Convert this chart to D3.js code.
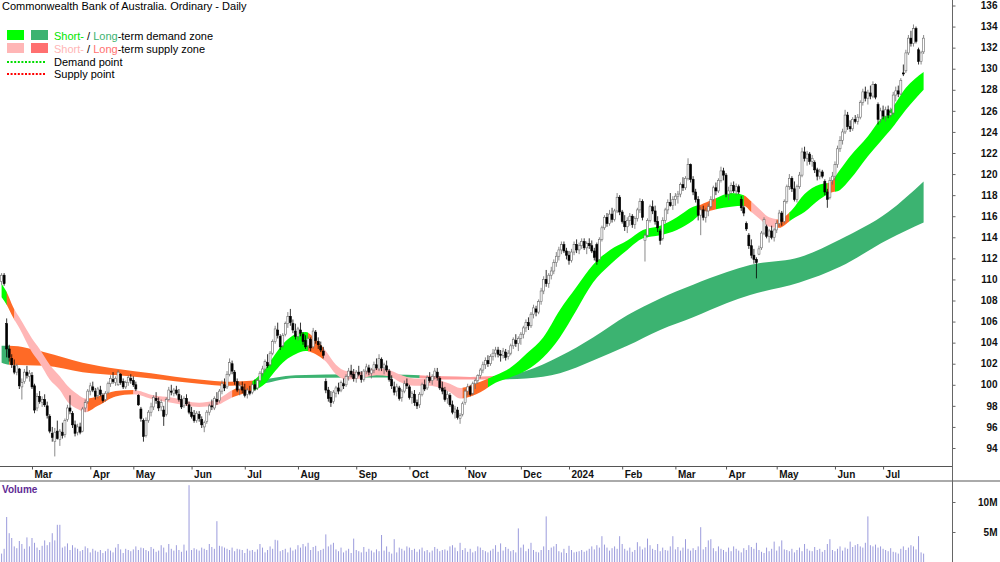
<!DOCTYPE html>
<html>
<head>
<meta charset="utf-8">
<script src="https://cdn.jsdelivr.net/npm/d3@7"></script>
<style>
  body { margin: 0; background: #fff; }
  svg { display: block; font-family: "Liberation Sans", Arial, sans-serif; }
</style>
</head>
<body>
<svg id="chart" width="1000" height="562"></svg>
<script>
// month labels and the index of the first trading day of each month
const monthLabels = ["Mar", "Apr", "May", "Jun", "Jul", "Aug", "Sep", "Oct", "Nov", "Dec", "2024", "Feb", "Mar", "Apr", "May", "Jun", "Jul"];
const monthStart = [12, 35, 52, 75, 96, 117, 140, 161, 183, 205, 224, 245, 266, 286, 306, 329, 348];
const priceTicks = d3.range(94, 137, 2);
const volumeTicks = [5, 10];

// daily candles [open, high, low, close], mid Feb 2023 .. Jul 2024
const candles = [
  // Feb 2023
  [109.8,110.6,109.5,110.4],[110.4,110.6,109.4,109.6],[105.8,106.3,102.6,103.4],[103.4,103.8,102.2,102.6],[102.5,102.9,101.6,101.9],[101.8,102.4,101.0,101.2],
  [101.2,102.0,100.9,101.8],[101.5,101.6,99.6,99.9],[99.8,100.6,98.6,100.2],[100.3,101.5,100.1,101.2],[101.2,101.8,100.6,100.9],[100.8,101.4,100.3,101.1],
  // Mar
  [100.9,101.2,99.6,99.8],[99.9,100.1,97.3,97.6],[97.8,99.2,97.5,98.9],[98.9,99.4,98.2,98.4],[98.3,98.9,97.9,98.6],[98.6,99.1,97.9,98.1],
  [98.0,98.4,96.8,97.1],[97.0,97.2,95.4,95.6],[95.4,96.0,94.6,95.0],[94.6,95.9,93.2,95.5],[95.6,96.6,94.8,94.9],[94.8,95.8,94.2,95.6],
  [95.5,96.4,94.9,95.2],[95.3,96.8,95.0,96.6],[96.7,98.1,96.5,97.8],[97.8,99.0,97.2,97.5],[97.3,97.5,95.9,96.2],[96.2,96.6,95.1,95.4],
  [95.5,96.3,95.2,96.0],[96.0,96.4,95.3,95.5],[95.6,97.9,95.5,97.7],[97.8,98.6,97.4,98.3],[98.4,99.6,98.2,99.4],
  // Apr
  [99.4,100.2,99.0,99.9],[99.8,100.3,99.3,99.5],[99.4,99.7,98.6,98.9],[99.0,99.8,98.7,99.6],[99.5,99.9,98.9,99.1],[99.0,99.2,98.3,98.5],
  [98.6,99.4,98.4,99.2],[99.3,100.3,99.1,100.1],[100.1,100.9,99.8,100.6],[100.5,101.2,100.1,100.3],[100.2,100.8,99.9,100.6],[100.0,101.4,99.9,101.2],
  [101.0,101.1,100.0,100.2],[100.3,100.6,99.6,99.8],[99.8,100.4,99.6,100.2],[100.2,100.9,99.9,100.7],[100.6,101.0,100.1,100.4],
  // May
  [100.4,100.8,99.8,100.0],[100.0,100.3,99.4,99.6],[99.0,99.1,98.0,98.1],[97.7,97.9,96.5,96.8],[96.6,96.8,94.6,95.1],[95.2,96.9,95.0,96.6],
  [96.6,97.6,96.4,97.4],[97.4,98.3,97.0,97.9],[97.9,99.0,97.6,98.8],[98.7,99.3,98.2,98.5],[98.4,98.8,97.5,97.8],[97.9,98.6,97.5,98.3],
  [97.6,98.0,96.1,97.0],[97.2,98.8,97.0,98.6],[98.6,99.8,98.5,99.5],[99.4,100.0,99.0,99.3],[99.2,99.7,98.9,99.5],[99.5,99.9,99.0,99.2],
  [99.1,99.6,98.4,98.6],[98.6,99.0,97.7,97.9],[98.0,98.9,97.8,98.7],[98.7,99.1,98.0,98.2],[98.1,98.4,97.2,97.4],
  // Jun
  [97.4,97.9,96.8,97.0],[97.1,97.6,96.4,96.6],[96.6,97.5,96.4,97.3],[97.2,97.5,96.5,96.8],[96.7,97.0,95.9,96.2],[96.0,96.6,95.5,96.4],
  [96.5,97.6,96.3,97.4],[97.4,98.2,97.1,98.0],[98.0,98.6,97.6,97.9],[97.8,98.9,97.6,98.7],[98.6,99.3,98.1,98.4],[98.5,99.6,98.3,99.4],
  [99.4,100.4,99.1,100.1],[100.0,100.6,99.4,99.7],[99.8,101.3,99.6,101.0],[101.0,102.5,100.8,102.1],[102.0,102.3,101.0,101.3],[101.2,101.4,100.0,100.3],
  [100.3,100.6,99.3,99.5],[99.6,100.2,99.0,99.9],[99.8,100.3,99.2,99.5],
  // Jul
  [99.5,100.1,98.8,99.0],[99.1,99.7,98.7,99.5],[99.4,99.9,99.0,99.2],[99.3,100.2,99.1,100.0],[100.0,100.5,99.4,99.6],[99.7,100.6,99.5,100.4],
  [100.4,101.3,100.2,101.1],[101.1,101.8,100.8,101.5],[101.5,102.4,101.2,102.2],[102.1,102.9,101.6,101.8],[101.9,103.2,101.7,103.0],[103.0,104.3,102.8,104.1],
  [104.1,105.6,103.9,105.3],[105.2,105.9,104.4,104.7],[104.6,104.8,103.3,103.6],[103.7,104.9,103.5,104.7],[104.8,106.0,104.6,105.8],[105.8,106.9,105.4,106.5],
  [106.5,107.2,105.6,105.9],[105.8,106.2,104.9,105.2],[105.1,105.8,104.3,104.6],
  // Aug
  [104.6,105.5,104.2,105.3],[105.2,105.9,104.6,104.9],[104.8,105.0,103.8,104.1],[104.2,104.7,103.4,103.6],[103.7,104.6,103.3,104.4],[104.3,104.5,103.2,103.5],
  [103.6,105.4,103.4,105.1],[105.0,105.2,103.9,104.2],[104.1,104.5,103.4,103.8],[103.7,104.1,103.1,103.3],[103.2,103.6,102.5,102.8],[100.3,100.6,99.2,99.5],
  [99.5,99.8,98.4,98.7],[98.8,99.4,97.9,98.3],[98.4,99.5,98.2,99.3],[99.2,99.9,98.8,99.7],[99.7,100.2,99.1,99.4],[99.5,100.4,99.3,100.2],
  [100.1,100.6,99.6,99.9],[100.0,101.0,99.8,100.8],[100.8,101.6,100.4,101.3],[101.3,101.9,100.7,101.0],[101.0,101.5,100.3,100.6],
  // Sep
  [100.6,101.4,100.2,101.2],[101.2,101.8,100.8,101.0],[100.9,101.3,100.2,100.5],[100.5,101.5,100.3,101.3],[101.3,102.0,101.0,101.7],[101.6,101.9,100.9,101.2],
  [101.1,101.6,100.6,101.4],[101.4,102.2,101.1,101.9],[101.9,102.5,101.4,101.6],[101.5,102.9,101.3,102.5],[102.4,102.6,101.3,101.6],[101.6,102.1,101.0,101.9],
  [101.8,102.3,101.2,101.4],[101.3,101.5,100.3,100.5],[100.5,100.9,99.6,99.9],[99.8,100.3,99.0,99.3],[99.4,100.1,98.9,99.8],[99.7,99.9,98.5,98.7],
  [98.8,99.6,98.4,99.4],[99.4,100.4,99.2,100.1],[100.1,100.6,99.6,99.9],
  // Oct
  [99.8,100.0,98.6,98.8],[98.8,99.4,98.2,99.2],[99.1,99.5,98.0,98.3],[98.3,98.6,97.7,98.0],[98.1,99.3,97.8,99.1],[99.1,100.2,98.9,100.0],
  [100.0,100.5,99.4,99.6],[99.7,100.9,99.5,100.7],[100.7,101.2,100.2,100.4],[100.4,101.0,100.0,100.8],[100.8,101.6,100.5,101.3],[101.2,101.6,100.4,100.7],
  [100.6,100.8,99.5,99.7],[99.7,100.3,99.1,99.4],[99.5,99.8,98.4,98.6],[98.7,99.4,98.2,99.1],[99.0,99.2,97.9,98.1],[98.1,98.5,97.2,97.4],
  [97.4,98.0,96.8,97.7],[97.6,97.9,96.7,96.9],[96.8,97.3,96.3,97.1],[97.2,98.4,97.0,98.2],
  // Nov
  [98.3,99.6,98.1,99.4],[99.4,100.1,99.0,99.8],[99.8,100.0,98.9,99.1],[99.2,100.3,99.0,100.1],[100.1,100.6,99.6,100.4],[100.4,101.0,100.1,100.9],
  [100.9,101.6,100.6,101.4],[101.4,102.2,101.1,101.9],[101.9,102.6,101.5,102.3],[102.3,102.8,101.7,102.0],[102.0,102.9,101.8,102.7],[102.7,103.4,102.3,103.0],
  [103.0,103.6,102.6,103.3],[103.3,103.6,102.6,102.9],[102.9,103.3,102.2,102.8],[102.8,103.5,102.5,103.2],[103.1,103.4,102.3,102.6],[102.7,103.3,102.4,103.0],
  [103.0,103.9,102.8,103.7],[103.7,104.5,103.4,104.3],[104.2,104.8,103.6,103.9],[103.9,104.6,103.2,104.4],
  // Dec
  [104.4,105.0,103.8,104.8],[104.8,105.6,104.4,105.4],[105.4,106.2,105.0,105.9],[105.9,106.4,105.2,105.6],[105.6,106.9,105.4,106.7],[106.7,107.6,106.3,107.3],
  [107.2,107.5,106.5,106.9],[106.9,108.1,106.7,107.9],[107.9,109.2,107.6,108.9],[108.9,110.3,108.6,110.0],[110.0,110.9,109.3,109.6],[109.6,110.6,109.2,110.4],
  [110.4,111.2,110.0,110.8],[110.8,111.9,110.5,111.6],[111.6,112.6,111.2,112.2],[112.2,113.1,111.8,112.8],[112.8,113.6,112.4,113.3],[113.3,113.6,112.5,112.7],
  [112.7,113.0,111.9,112.3],
  // Jan 2024
  [112.3,112.7,111.4,111.8],[111.8,112.9,111.6,112.6],[112.6,113.6,112.3,113.3],[113.3,113.8,112.5,112.8],[112.8,113.5,112.4,113.2],[113.2,113.9,112.9,113.6],
  [113.6,113.9,112.8,113.0],[113.0,113.6,112.4,113.4],[113.4,113.9,112.9,113.2],[113.2,113.7,112.5,112.7],[112.7,113.0,111.8,112.1],[113.3,113.5,111.4,111.7],
  [111.9,114.0,111.8,113.8],[113.8,115.1,113.6,114.9],[114.9,116.1,114.7,115.9],[115.9,116.3,115.0,115.3],[115.3,116.6,115.1,116.2],[116.2,116.8,115.4,115.7],
  [115.7,116.7,115.5,116.5],[116.5,118.2,116.3,117.8],[117.8,118.0,116.1,116.4],
  // Feb
  [116.4,116.6,115.3,115.5],[115.5,116.1,114.6,115.0],[115.0,115.9,114.4,115.6],[115.6,116.3,115.1,116.0],[116.0,116.2,114.9,115.2],[115.2,116.0,114.8,115.8],
  [115.8,116.8,115.5,116.6],[116.6,117.7,116.3,117.4],[117.4,117.6,115.6,115.9],[113.7,114.4,111.7,114.2],[114.2,115.8,114.0,115.6],[115.6,117.1,115.4,116.9],
  [116.9,117.5,116.2,116.5],[116.5,117.0,115.2,115.5],[115.5,116.0,114.5,114.9],[114.6,114.8,113.3,113.7],[113.9,115.9,113.7,115.6],[115.6,116.8,115.3,116.6],
  [116.6,117.6,116.2,117.3],[117.3,118.2,116.9,117.0],[117.0,117.9,116.6,117.6],
  // Mar
  [117.6,118.2,117.0,117.9],[117.9,118.4,117.2,118.1],[118.1,119.2,117.8,119.0],[119.0,119.7,118.4,118.7],[118.7,119.8,118.5,119.6],[119.6,121.5,119.4,120.9],
  [120.9,121.0,119.2,119.5],[119.5,119.8,118.0,118.3],[118.3,118.6,117.3,117.6],[117.6,117.9,115.6,116.1],[116.1,116.9,114.2,116.6],[116.6,117.0,115.6,115.9],
  [115.9,116.8,115.4,116.5],[116.5,117.2,116.0,116.9],[116.9,117.9,116.7,117.6],[117.6,118.9,117.4,118.7],[118.7,119.2,118.0,118.4],[118.4,119.6,118.2,119.4],
  [119.4,120.7,119.2,120.3],[120.3,120.6,119.4,119.9],
  // Apr
  [119.9,120.1,117.8,118.1],[118.1,118.8,117.5,118.4],[118.4,119.2,118.1,118.9],[118.9,119.3,118.2,118.4],[118.4,119.1,118.0,118.8],[118.8,119.0,118.1,118.3],
  [117.6,117.9,116.5,116.8],[116.8,117.0,116.0,116.3],[115.3,115.5,114.6,114.8],[114.2,114.4,112.9,113.2],[113.2,113.8,112.0,112.3],[112.3,112.9,111.5,111.9],
  [111.9,112.1,110.1,111.6],[112.4,113.2,112.3,112.9],[113.0,114.6,112.8,114.4],[114.4,115.9,114.2,115.7],[115.0,115.2,113.9,114.1],[114.1,114.8,113.5,114.6],
  [114.6,115.1,113.8,114.0],[114.0,114.9,113.6,114.7],
  // May
  [114.7,115.6,114.4,115.3],[115.3,116.6,115.0,116.3],[116.3,116.5,115.1,115.5],[115.5,117.6,115.3,117.4],[117.4,119.0,117.2,118.8],[118.8,120.0,118.5,119.6],
  [119.6,119.8,118.3,118.6],[118.6,119.3,117.4,117.6],[117.6,119.0,117.3,118.8],[118.8,120.2,118.6,119.9],[119.9,122.5,119.7,122.1],[122.1,122.6,121.2,121.5],
  [121.5,122.2,120.8,121.9],[121.9,122.1,120.9,121.2],[121.2,121.8,120.7,121.5],[121.1,121.3,120.1,120.4],[120.4,120.6,119.4,119.8],[119.8,120.5,119.5,120.2],
  [120.2,120.4,119.6,119.8],[119.3,119.5,118.0,118.3],[118.3,118.6,116.8,117.6],[117.8,119.7,117.6,119.4],[119.4,120.2,119.0,119.8],
  // Jun
  [119.8,121.2,119.4,120.9],[120.9,122.7,120.6,122.4],[122.4,123.6,122.1,123.2],[123.2,124.3,122.8,124.0],[124.0,126.1,123.8,125.6],[125.6,125.9,124.2,124.5],
  [124.5,125.1,124.0,124.3],[124.3,125.4,124.1,125.2],[125.2,125.6,124.8,125.0],[125.0,125.7,124.7,125.4],[125.4,127.0,125.2,126.8],[126.8,128.1,126.5,127.8],
  [127.8,128.3,126.9,127.2],[127.2,128.0,126.6,127.7],[127.7,128.4,127.1,127.4],[127.4,128.8,127.2,128.5],[128.5,128.6,127.1,127.3],[126.6,126.8,124.7,125.2],
  [125.2,126.3,124.9,126.0],
  // Jul
  [126.0,126.5,125.2,125.5],[125.5,126.4,125.0,126.1],[126.1,126.5,125.3,125.6],[125.6,126.3,125.4,125.8],[125.8,127.8,125.6,127.5],[127.5,128.3,126.9,127.9],
  [127.9,128.4,127.3,127.6],[127.6,129.1,127.5,128.9],[129.6,130.4,129.3,129.5],[129.8,131.8,129.6,131.5],[131.5,133.2,131.3,132.9],[132.9,133.6,132.1,132.4],
  [132.4,134.2,132.1,133.8],[133.8,134.0,132.4,132.6],[131.8,132.0,130.4,130.7],[130.7,131.7,130.4,131.5],[131.6,133.2,131.4,132.9]
];

// daily volume, millions of shares
const volumes = [
  1.4,2.2,7.5,4.8,4.0,2.6,2.3,3.5,3.0,2.2,4.1,2.6,
  4.0,3.2,2.4,2.0,2.7,3.6,2.8,3.3,4.8,3.6,6.2,6.2,2.4,2.6,3.1,2.0,2.8,2.4,2.2,1.8,2.0,2.6,2.3,
  1.6,2.2,1.9,1.7,2.0,1.5,1.8,2.2,1.9,1.6,2.4,3.0,2.1,1.5,2.2,2.0,1.8,
  2.1,2.6,2.0,2.4,2.3,2.0,1.8,2.5,2.2,1.7,1.9,2.8,2.4,1.6,3.0,2.2,1.9,2.8,2.0,1.7,2.9,1.9,12.8,
  2.0,2.3,2.1,1.9,2.4,2.2,2.0,3.0,2.5,2.2,6.8,2.7,2.6,2.4,2.2,2.0,2.4,1.8,2.2,2.1,2.0,
  1.5,2.2,1.9,2.0,1.7,2.1,3.0,2.4,1.6,2.0,2.6,2.2,3.7,3.6,1.8,2.0,2.2,1.6,2.4,1.9,2.1,
  2.8,2.4,3.0,2.6,3.2,2.0,2.5,2.7,1.8,2.0,2.2,4.6,2.6,2.9,3.2,2.1,1.8,2.4,1.6,1.9,2.2,1.5,3.9,
  2.0,1.8,1.6,2.5,1.7,2.2,1.9,1.6,2.1,1.8,4.5,1.9,2.6,1.7,1.4,3.8,1.6,2.4,2.2,1.9,2.6,
  2.4,2.0,2.2,1.7,2.1,2.4,1.8,2.0,1.6,1.9,2.5,2.2,1.8,2.0,2.1,1.9,2.6,2.8,2.4,1.8,3.2,2.0,
  2.3,1.7,2.2,1.6,1.8,2.6,2.4,2.0,1.8,1.6,1.9,2.2,2.8,1.7,3.1,1.9,2.5,2.2,1.8,2.0,1.6,5.6,
  2.4,2.9,1.8,2.2,3.2,2.0,1.7,1.6,2.0,2.6,7.6,2.0,2.4,2.6,3.0,1.8,1.6,2.2,1.5,
  2.7,2.0,1.6,1.7,1.8,2.0,1.7,1.9,2.2,2.6,2.1,2.8,2.4,4.3,2.9,2.4,1.9,2.3,2.6,2.2,4.3,
  3.0,2.2,1.9,2.4,1.7,2.0,3.3,2.6,2.1,2.4,3.9,2.8,2.2,2.0,3.0,1.8,2.4,2.0,1.9,2.6,4.3,
  2.1,2.5,1.9,2.4,3.8,2.2,1.9,2.3,2.0,2.6,5.8,2.1,2.5,3.6,3.8,2.3,1.8,2.6,2.2,2.0,
  1.7,2.4,1.8,2.6,2.2,1.9,1.6,2.3,2.0,2.8,2.5,2.2,3.2,2.0,1.7,1.5,2.4,1.8,2.2,3.4,
  1.9,2.6,3.6,2.1,2.0,1.8,2.2,1.6,2.0,2.4,1.8,3.0,2.2,1.9,1.8,2.5,2.0,2.2,1.7,2.0,3.0,3.8,2.0,
  1.8,2.2,2.6,1.9,2.4,2.2,3.4,2.5,2.8,3.0,2.6,2.4,3.2,7.6,2.8,2.6,2.9,2.4,2.6,
  2.2,2.0,1.8,2.3,1.7,1.6,1.4,2.2,2.6,2.0,2.4,2.8,2.6,2.1,4.3,1.6,1.4
];

// zone edges: [day index, upper, lower]
const shortZone = [
  [0,109.6,108.3],[2,108.8,107.6],[4.5,107.4,106.4],[7,106.4,105.4],[12,104.4,103.1],[15,103.4,102.1],
  [19,101.9,100.5],[23,100.8,99.5],[26,99.9,98.4],[30,99.1,97.7],[33,98.7,97.4],[38,98.9,98.0],
  [45,99.4,98.9],[52,99.5,99.1],[60,99.0,98.6],[67,98.8,98.3],[78,98.3,97.9],[84,98.5,98.0],
  [92,99.6,98.9],[96,100.0,99.2],[100,100.5,99.5],[104,101.5,100.1],[108,102.9,101.3],[112,104.1,102.3],
  [116,104.8,102.9],[120,105.0,103.2],[124,104.3,102.9],[128,103.2,102.2],[132,101.9,101.0],[136,101.3,100.5],
  [142,101.2,100.6],[148,101.6,100.9],[153,101.4,100.8],[157,101.0,100.3],[163,100.6,99.9],[169,100.6,99.9],
  [173,100.4,99.7],[177,100.1,99.3],[181,99.7,98.7],[189,100.3,99.3],[195,100.9,100.2],[200.7,101.6,100.7],
  [207.4,103.0,101.4],[213.8,104.5,102.6],[220.4,107.1,104.5],[227,109.3,107.1],[233.5,111.4,109.7],[240.2,112.8,111.4],
  [247,113.7,112.8],[253.2,114.7,113.9],[260,115.1,114.2],[266.6,115.9,114.7],[273,116.9,115.6],[276,117.1,116.2],
  [281,117.6,116.6],[288,118.2,116.9],[293,118.0,117.0],[296,117.4,116.4],[300,116.5,115.6],[303,115.9,115.0],
  [307,115.7,114.9],[312,116.6,115.7],[317,118.1,116.4],[323,119.0,117.6],[327,119.2,118.2],[331,120.4,118.5],
  [335,121.7,119.5],[342,123.6,121.7],[347,125.2,123.1],[351,126.1,124.2],[357,128.2,126.1],[364,129.7,128.0]
];
const longZone = [
  [0,103.7,102.1],[3,103.7,101.9],[17,103.1,101.8],[32,102.1,101.2],[46,101.5,100.9],[59,101.1,100.6],
  [78,100.5,100.1],[90,100.3,99.9],[100,100.4,100.0],[116,100.9,100.65],[140,101.0,100.7],[160,100.95,100.7],
  [175,100.8,100.5],[185,100.75,100.5],[195.6,100.85,100.5],[207,101.3,100.6],[220.4,102.7,101.1],[233.5,104.5,102.3],
  [247,106.6,103.7],[260,108.2,105.2],[273,109.5,106.4],[286.4,110.7,107.76],[295.5,111.37,108.52],[315,112.1,109.7],
  [331,113.8,111.2],[350,116.4,113.8],[364,119.3,115.4]
];
// zone state per stretch of days: d = demand, s = supply, x = turning
const shortState = [
  [0,2,"d"],[2,5,"x"],[5,34,"s"],[34,52,"x"],[52,91,"s"],[91,99,"x"],[99,121,"d"],[121,127,"x"],
  [127,182,"s"],[182,192,"x"],[192,275,"d"],[275,282,"x"],[282,293,"d"],[293,296,"x"],[296,306,"s"],
  [306,311,"x"],[311,326,"d"],[326,329,"x"],[329,364,"d"]
];
const longState = [[0,3,"d"],[3,101,"x"],[101,165,"d"],[165,194,"s"],[194,364,"d"]];

const shortColor = { d: "#00ff00", s: "#ffb6b6", x: "#ff6a26" };
const longColor = { d: "#3cb371", s: "#ff9a9a", x: "#ff6a26" };

const svg = d3.select("#chart");
const axisX = 952, priceBottom = 466, volTop = 481;

const x = d3.scaleLinear().domain([0, candles.length - 1]).range([1.6, 1.6 + (candles.length - 1) * 2.533]);
const y = d3.scaleLinear().domain([94, 136]).range([448, 5.5]);
const vy = d3.scaleLinear().domain([0, 10]).range([562, 502]);

const defs = svg.append("defs");
defs.append("clipPath").attr("id", "priceClip")
  .append("rect").attr("x", 0).attr("y", 0).attr("width", axisX).attr("height", priceBottom);

const plot = svg.append("g").attr("clip-path", "url(#priceClip)");

function drawZone(points, states, colors, name) {
  const area = d3.area()
    .x(d => x(d[0]))
    .y0(d => y(d[2]))
    .y1(d => y(d[1]))
    .curve(d3.curveMonotoneX);
  states.forEach((s, i) => {
    const id = name + i;
    const x0 = i === 0 ? 0 : x(s[0]);
    const x1 = i === states.length - 1 ? axisX : x(s[1]) + 0.3;
    defs.append("clipPath").attr("id", id)
      .append("rect").attr("x", x0).attr("y", 0).attr("width", x1 - x0).attr("height", priceBottom);
    plot.append("path")
      .datum(points)
      .attr("clip-path", `url(#${id})`)
      .attr("fill", colors[s[2]])
      .attr("d", area);
  });
}

drawZone(longZone, longState, longColor, "lz");
drawZone(shortZone, shortState, shortColor, "sz");

// candles
const c = plot.append("g").selectAll("g").data(candles).enter().append("g");
c.append("line")
  .attr("x1", (d, i) => x(i)).attr("x2", (d, i) => x(i))
  .attr("y1", d => y(d[1])).attr("y2", d => y(d[2]))
  .attr("stroke", d => d[3] >= d[0] ? "#6b6b6b" : "#000")
  .attr("stroke-width", 0.8);
c.append("rect")
  .attr("x", (d, i) => x(i) - 1)
  .attr("width", 2)
  .attr("y", d => y(Math.max(d[0], d[3])))
  .attr("height", d => Math.max(0.8, Math.abs(y(d[0]) - y(d[3]))))
  .attr("fill", d => d[3] >= d[0] ? "#fff" : "#000")
  .attr("stroke", d => d[3] >= d[0] ? "#6b6b6b" : "#000")
  .attr("stroke-width", 0.6);

// volume bars
svg.append("g").selectAll("line").data(volumes).enter().append("line")
  .attr("x1", (d, i) => x(i)).attr("x2", (d, i) => x(i))
  .attr("y1", vy(0)).attr("y2", d => vy(d))
  .attr("stroke", "#9b9bdc")
  .attr("stroke-width", 1);

// frame lines
svg.append("line").attr("x1", 0).attr("x2", axisX).attr("y1", priceBottom + 0.5).attr("y2", priceBottom + 0.5)
  .attr("stroke", "#555").attr("stroke-width", 1);
svg.append("line").attr("x1", 0).attr("x2", 1000).attr("y1", volTop).attr("y2", volTop)
  .attr("stroke", "#aaa").attr("stroke-width", 2);
svg.append("line").attr("x1", axisX + 0.5).attr("x2", axisX + 0.5).attr("y1", 0).attr("y2", 562)
  .attr("stroke", "#666").attr("stroke-width", 1);

// price axis
const pa = svg.append("g").attr("transform", `translate(${axisX + 0.5},0)`)
  .call(d3.axisRight(y).tickValues(priceTicks).tickSize(3).tickFormat(d3.format("d")));
pa.select(".domain").remove();
pa.selectAll("line").attr("stroke", "#666");
pa.selectAll("text").attr("x", 45).attr("text-anchor", "end")
  .attr("font-size", 10).attr("font-weight", "bold").attr("fill", "#111").attr("font-family", null);

// volume axis
const va = svg.append("g").attr("transform", `translate(${axisX + 0.5},0)`)
  .call(d3.axisRight(vy).tickValues(volumeTicks).tickSize(3).tickFormat(d => d + "M"));
va.select(".domain").remove();
va.selectAll("line").attr("stroke", "#666");
va.selectAll("text").attr("x", 45).attr("text-anchor", "end")
  .attr("font-size", 10).attr("font-weight", "bold").attr("fill", "#111").attr("font-family", null);

// month axis
const ma = svg.append("g").attr("transform", `translate(0,${priceBottom + 0.5})`)
  .call(d3.axisBottom(x).tickValues(monthStart).tickSize(3).tickFormat((d, i) => monthLabels[i]));
ma.select(".domain").remove();
ma.selectAll("line").attr("stroke", "#555");
ma.selectAll("text").attr("x", 2).attr("y", 11).attr("dy", 0).attr("text-anchor", "start")
  .attr("font-size", 10).attr("font-weight", "bold").attr("fill", "#111").attr("font-family", null);

// title and labels
svg.append("text").attr("x", 2).attr("y", 10).attr("font-size", 11).attr("fill", "#000")
  .text("Commonwealth Bank of Australia. Ordinary - Daily");
svg.append("text").attr("x", 2).attr("y", 493).attr("font-size", 10).attr("font-weight", "bold")
  .attr("fill", "#5e2a94").text("Volume");

// legend
const lg = svg.append("g").attr("font-size", 11);
lg.append("rect").attr("x", 7).attr("y", 30).attr("width", 17).attr("height", 10).attr("fill", "#00ff00");
lg.append("rect").attr("x", 31).attr("y", 30).attr("width", 17).attr("height", 10).attr("fill", "#3cb371");
lg.append("rect").attr("x", 7).attr("y", 43).attr("width", 17).attr("height", 10).attr("fill", "#ffb6b6");
lg.append("rect").attr("x", 31).attr("y", 43).attr("width", 17).attr("height", 10).attr("fill", "#ff7070");
lg.append("line").attr("x1", 7).attr("x2", 45).attr("y1", 62).attr("y2", 62)
  .attr("stroke", "#00dd00").attr("stroke-width", 2).attr("stroke-dasharray", "2,1.6");
lg.append("line").attr("x1", 7).attr("x2", 45).attr("y1", 74).attr("y2", 74)
  .attr("stroke", "#ff0000").attr("stroke-width", 2).attr("stroke-dasharray", "2,1.6");

const t1 = lg.append("text").attr("x", 54).attr("y", 39.5);
t1.append("tspan").attr("fill", "#00e600").text("Short-");
t1.append("tspan").attr("fill", "#000").text(" / ");
t1.append("tspan").attr("fill", "#3cb371").text("Long");
t1.append("tspan").attr("fill", "#000").text("-term demand zone");
const t2 = lg.append("text").attr("x", 54).attr("y", 52.5);
t2.append("tspan").attr("fill", "#ffb6b6").text("Short-");
t2.append("tspan").attr("fill", "#000").text(" / ");
t2.append("tspan").attr("fill", "#ff7070").text("Long");
t2.append("tspan").attr("fill", "#000").text("-term supply zone");
lg.append("text").attr("x", 54).attr("y", 65.5).attr("fill", "#000").text("Demand point");
lg.append("text").attr("x", 54).attr("y", 78).attr("fill", "#000").text("Supply point");
</script>
</body>
</html>
